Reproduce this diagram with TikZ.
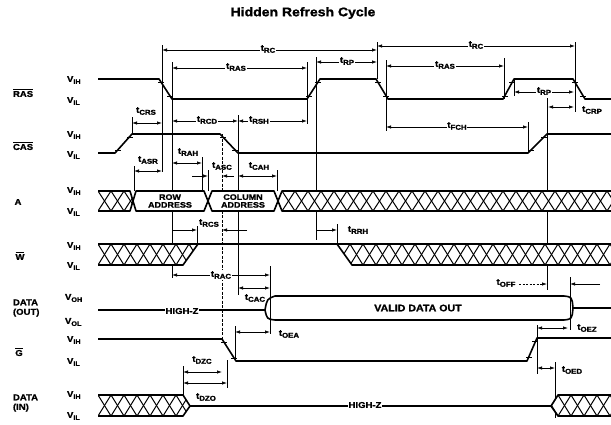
\documentclass[tikz,border=0pt]{standalone}
\usepackage{fontspec}
\setmainfont{Liberation Sans}[FakeStretch=1.12, BoldFeatures={FakeBold=1.4}]
\usetikzlibrary{arrows.meta}
\newcommand{\tm}[1]{t\raisebox{-2pt}{\fontsize{7}{7}\selectfont #1}}
\newcommand{\vv}[2]{#1\raisebox{-2pt}{\fontsize{6.5}{7}\selectfont #2}}
\newcommand{\ovl}[1]{$\overline{\mbox{#1}}$}
\newcommand{\hatch}[2]{%
 \begin{scope}
  \clip #1;
  \fill[white] #1;
  \foreach \k in {-1,...,27}{
   \pgfmathsetmacro\xa{#2+13*\k}
   \pgfmathsetmacro\xb{#2+13*\k+13}
   \draw[hat] (\xa,\ytop) -- (\xb,\ybot);
   \draw[hat] (\xa,\ybot) -- (\xb,\ytop);
  }
 \end{scope}}
\newcommand{\tk}[2]{\draw[mk] (#1-3,#2) -- (#1+3,#2);}
\begin{document}
\begin{tikzpicture}[x=1pt,y=-1pt,
 every node/.style={font=\bfseries\fontsize{8.5}{9}\selectfont, inner sep=0.8pt},
 sig/.style={line width=1.6pt, line join=round},
 hat/.style={line width=1pt},
 refl/.style={line width=0.6pt},
 refd/.style={line width=0.6pt, dash pattern=on 3pt off 1.5pt},
 meas/.style={line width=0.7pt, {Latex[length=5pt,width=3.4pt]}-{Latex[length=5pt,width=3.4pt]}},
 measr/.style={line width=0.7pt, -{Latex[length=5pt,width=3.4pt]}},
 lab/.style={fill=white},
 mk/.style={line width=0.9pt}]
\useasboundingbox (0,0) rectangle (611,424);

% title
\node[font=\bfseries\fontsize{12.5}{14}\selectfont] (title) at (303,13) {Hidden Refresh Cycle};

% row labels
\node[anchor=west] (lras) at (12,93) {\ovl{RAS}};
\node[anchor=west] (lcas) at (12,146) {\ovl{CAS}};
\node (la) at (18,202) {A};
\node (lw) at (20,256) {\ovl{W}};
\node[anchor=west, align=left, font=\bfseries\fontsize{8.5}{9.5}\selectfont] (ldo) at (12,308) {DATA\\(OUT)};
\node (lg) at (19,352) {\ovl{G}};
\node[anchor=west, align=left, font=\bfseries\fontsize{8.5}{9.5}\selectfont] (ldi) at (12,403) {DATA\\(IN)};

% level labels
\node[anchor=west] (v1) at (66,80) {\vv{V}{IH}};
\node[anchor=west] (v2) at (66,101) {\vv{V}{IL}};
\node[anchor=west] (v3) at (66,135) {\vv{V}{IH}};
\node[anchor=west] (v4) at (66,155) {\vv{V}{IL}};
\node[anchor=west] (v5) at (66,191) {\vv{V}{IH}};
\node[anchor=west] (v6) at (66,212) {\vv{V}{IL}};
\node[anchor=west] (v7) at (66,246) {\vv{V}{IH}};
\node[anchor=west] (v8) at (66,266) {\vv{V}{IL}};
\node[anchor=west] (v9) at (64,298) {\vv{V}{OH}};
\node[anchor=west] (v10) at (64,322) {\vv{V}{OL}};
\node[anchor=west] (v11) at (66,340) {\vv{V}{IH}};
\node[anchor=west] (v12) at (66,362) {\vv{V}{IL}};
\node[anchor=west] (v13) at (66,395) {\vv{V}{IH}};
\node[anchor=west] (v14) at (66,416) {\vv{V}{IL}};

% reference verticals
\draw[refl] (162,45) -- (162,172);
\draw[refl] (172,62) -- (172,278);
\draw[refl] (132,117) -- (132,134);
\draw[refl] (134,166) -- (134,191);
\draw[refl] (202,157) -- (202,191);
\draw[refl] (208,170) -- (208,191);
\draw[refd] (222,134) -- (222,340);
\draw[refl] (238,115) -- (238,295);
\draw[refl] (277,170) -- (277,191);
\draw[refl] (197,226) -- (197,244);
\draw[refl] (270,266) -- (270,334);
\draw[refl] (183,366) -- (183,396);
\draw[refl] (227,360) -- (227,388);
\draw[refl] (235,326) -- (235,361);
\draw[refl] (307,62) -- (307,124);
\draw[refl] (316,57) -- (316,240);
\draw[refl] (337,224) -- (337,244);
\draw[refl] (377,42) -- (377,79);
\draw[refl] (386,60) -- (386,131);
\draw[refl] (504,58) -- (504,99);
\draw[refl] (514,79) -- (514,96);
\draw[refl] (528,122) -- (528,153);
\draw[refl] (547,98) -- (547,290);
\draw[refl] (575,42) -- (575,112);
\draw[refl] (570,277) -- (570,330);
\draw[refl] (537,325) -- (537,374);
\draw[refl] (555,362) -- (555,418);

% RAS
\draw[sig] (98,79) -- (159,79) -- (172,99) -- (307,99) -- (320,79) -- (376,79) -- (388,99) -- (503,99) -- (514,79) -- (573,79) -- (585,99) -- (611,99);
\tk{161}{82}\tk{170}{96}\tk{309}{96}\tk{318}{82}\tk{378}{82}\tk{386}{96}\tk{505}{96}\tk{512}{82}\tk{575}{82}\tk{583}{96}
% CAS
\draw[sig] (98,153) -- (115,153) -- (132,134) -- (220,134) -- (238,153) -- (528,153) -- (547,134) -- (611,134);
\tk{118}{150}\tk{130}{137}\tk{223}{137}\tk{235}{150}\tk{531}{150}\tk{544}{137}

% A bus
\def\ytop{191}\def\ybot{211}
\hatch{(98,191) -- (130,191) -- (133,201) -- (130,211) -- (98,211) -- cycle}{98}
\hatch{(278,201) -- (282,191) -- (611,191) -- (611,211) -- (282,211) -- cycle}{282}
\fill[white] (133,201) -- (136,191) -- (204,191) -- (208,201) -- (204,211) -- (136,211) -- cycle;
\fill[white] (208,201) -- (212,191) -- (274,191) -- (278,201) -- (274,211) -- (212,211) -- cycle;
\draw[sig] (98,191) -- (130,191) -- (136,211) -- (204,211) -- (212,191) -- (274,191) -- (282,211) -- (611,211);
\draw[sig] (98,211) -- (130,211) -- (136,191) -- (204,191) -- (212,211) -- (274,211) -- (282,191) -- (611,191);
\node[align=center, font=\bfseries\fontsize{8}{7.8}\selectfont] (row) at (170,201) {ROW\\ADDRESS};
\node[align=center, font=\bfseries\fontsize{8}{7.8}\selectfont] (col) at (243,201) {COLUMN\\ADDRESS};

% W
\def\ytop{244}\def\ybot{265}
\hatch{(98,244) -- (198,244) -- (183,265) -- (98,265) -- cycle}{98}
\hatch{(337,244) -- (611,244) -- (611,265) -- (352,265) -- cycle}{337}
\draw[sig] (98,244) -- (611,244);
\draw[sig] (98,265) -- (183,265) -- (198,244);
\draw[sig] (337,244) -- (352,265) -- (611,265);

% DATA OUT
\draw[sig] (98,310) -- (265,310) .. controls (267,299) .. (275,296) -- (564,296) .. controls (572,297) .. (573,308) -- (611,308);
\draw[sig] (265,310) .. controls (267,319) .. (275,320) -- (564,320) .. controls (572,319) .. (573,308);
\node[lab] (hz1) at (182,311) {HIGH-Z};
\node[font=\bfseries\fontsize{9.5}{10}\selectfont] (valid) at (418,308) {VALID DATA OUT};

% G
\draw[sig] (98,339) -- (222,339) -- (236,361) -- (527,361) -- (537,338) -- (611,338);
\tk{224}{342}\tk{234}{358}\tk{529}{357}\tk{535}{341}

% DATA IN
\def\ytop{395}\def\ybot{416}
\hatch{(98,395) -- (183,395) -- (190,406) -- (183,416) -- (98,416) -- cycle}{98}
\hatch{(551,406) -- (558,395) -- (611,395) -- (611,416) -- (558,416) -- cycle}{558}
\draw[sig] (98,395) -- (183,395) -- (190,406) -- (551,406) -- (558,395) -- (611,395);
\draw[sig] (98,416) -- (183,416) -- (190,406);
\draw[sig] (551,406) -- (558,416) -- (611,416);
\node[lab] (hz2) at (365,405) {HIGH-Z};

% timing arrows
\draw[meas] (162,50) -- (377,50);  \node[lab] (trc1) at (268,49) {\tm{RC}};
\draw[meas] (377,46) -- (575,46);  \node[lab] (trc2) at (476,45) {\tm{RC}};
\draw[meas] (172,68) -- (307,68);  \node[lab] (tras1) at (236,67) {\tm{RAS}};
\draw[meas] (316,62) -- (377,62);  \node[lab] (trp1) at (347,61) {\tm{RP}};
\draw[meas] (386,66) -- (504,66);  \node[lab] (tras2) at (445,65) {\tm{RAS}};
\draw[meas] (514,92) -- (574,92);  \node[lab] (trp2) at (544,91) {\tm{RP}};
\draw[meas] (548,107) -- (574,107); \node (tcrp) at (592,110) {\tm{CRP}};
\draw[meas] (386,127) -- (528,127); \node[lab] (tfch) at (457,126) {\tm{FCH}};
\draw[meas] (132,123) -- (162,123); \node (tcrs) at (146,111) {\tm{CRS}};
\draw[meas] (172,121) -- (238,121); \node[lab] (trcd) at (207,120) {\tm{RCD}};
\draw[meas] (238,121) -- (307,121); \node[lab] (trsh) at (259,120) {\tm{RSH}};
\draw[meas] (134,171) -- (162,171); \node (tasr) at (148,160) {\tm{ASR}};
\draw[meas] (172,163) -- (202,163); \node (trah) at (188,152) {\tm{RAH}};
\draw[measr] (192,176) -- (208,176);
\draw[measr] (234,176) -- (222,176); \node (tasc) at (222,166) {\tm{ASC}};
\draw[meas] (238,176) -- (277,176); \node (tcah) at (259,166) {\tm{CAH}};
\draw[measr] (172,230) -- (197,230);
\draw[measr] (247,230) -- (222,230); \node (trcs) at (209,223) {\tm{RCS}};
\draw[measr] (316,230) -- (337,230); \node (trrh) at (358,230) {\tm{RRH}};
\draw[meas] (172,275) -- (270,275); \node[lab] (trac) at (221,275) {\tm{RAC}};
\draw[meas] (238,288) -- (270,288); \node (tcac) at (255,298) {\tm{CAC}};
\draw[meas] (235,332) -- (270,332); \node (toea) at (289,334) {\tm{OEA}};
\draw[meas] (183,372) -- (222,372); \node (tdzc) at (202,360) {\tm{DZC}};
\draw[meas] (183,383) -- (227,383); \node (tdzo) at (206,397) {\tm{DZO}};
\draw[measr, dash pattern=on 2pt off 1.5pt] (519,284) -- (547,284); \node (toff) at (506,283) {\tm{OFF}};
\draw[measr] (600,284) -- (570,284);
\draw[meas] (537,328) -- (568,328); \node (toez) at (587,328) {\tm{OEZ}};
\draw[meas] (537,368) -- (555,368); \node (toed) at (572,370) {\tm{OED}};
\end{tikzpicture}
\end{document}
